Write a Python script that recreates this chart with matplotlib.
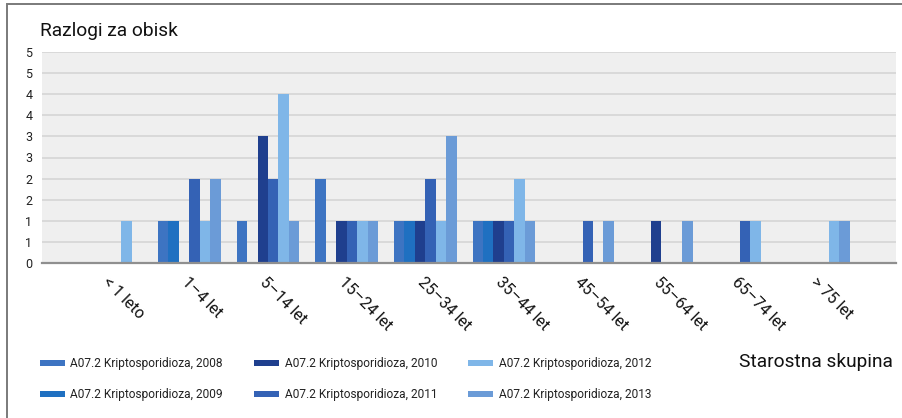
import matplotlib
matplotlib.use("Agg")
import matplotlib.pyplot as plt
import numpy as np
from matplotlib.patches import Rectangle

# ---------------- data ----------------
categories = ["< 1 leto", "1–4 let", "5–14 let", "15–24 let", "25–34 let",
              "35–44 let", "45–54 let", "55–64 let", "65–74 let", "> 75 let"]
series_labels = ["A07.2 Kriptosporidioza, 2008", "A07.2 Kriptosporidioza, 2009",
                 "A07.2 Kriptosporidioza, 2010", "A07.2 Kriptosporidioza, 2011",
                 "A07.2 Kriptosporidioza, 2012", "A07.2 Kriptosporidioza, 2013"]
v2008 = [0, 1, 1, 2, 1, 1, 0, 0, 0, 0]
v2009 = [0, 1, 0, 0, 1, 1, 0, 0, 0, 0]
v2010 = [0, 0, 3, 1, 1, 1, 0, 1, 0, 0]
v2011 = [0, 2, 2, 1, 2, 1, 1, 0, 1, 0]
v2012 = [1, 1, 4, 1, 1, 2, 0, 0, 1, 1]
v2013 = [0, 2, 1, 1, 3, 1, 1, 1, 0, 1]
ytick_values = [0, 0.5, 1, 1.5, 2, 2.5, 3, 3.5, 4, 4.5, 5]
ytick_labels = ["0", "1", "1", "2", "2", "3", "3", "4", "4", "5", "5"]
title_text = "Razlogi za obisk"
xlabel_text = "Starostna skupina"

series = [v2008, v2009, v2010, v2011, v2012, v2013]
colors = ["#3d74c2", "#1f70c1", "#1f3f8e", "#3462b5", "#7fb6e8", "#6b9bd7"]

FONT = ["Roboto", "DejaVu Sans"]
plt.rcParams["font.family"] = FONT

W, H = 903, 418
fig = plt.figure(figsize=(W / 100, H / 100), dpi=100)
fig.patch.set_facecolor("white")

# outer border (top and left visible)
fig.add_artist(Rectangle((7 / W, -0.05), 1.0, 1.05 - 4 / H, fill=False,
                         edgecolor="#7a7a7a", lw=1.4, transform=fig.transFigure))

ax_l, ax_r, ax_t, ax_b = 42, 896, 52, 263
ax = fig.add_axes([ax_l / W, (H - ax_b) / H, (ax_r - ax_l) / W, (ax_b - ax_t) / H])
ax.set_facecolor("#efefef")

x = np.arange(len(categories))
bw = 0.1329
handles = []
for i, (vals, c) in enumerate(zip(series, colors)):
    h = ax.bar(x + (i - 2.5) * bw, vals, width=bw, color=c, linewidth=0, zorder=3)
    handles.append(h)

ax.set_xlim(-0.873, 9.985)
ax.set_ylim(0, 5)
ax.set_yticks(ytick_values)
ax.set_yticklabels(ytick_labels, fontsize=9, color="#222222")
ax.set_axisbelow(True)
ax.yaxis.grid(True, color="#d7d7d7", lw=1.3)
for s in ["top", "right", "left"]:
    ax.spines[s].set_visible(False)
ax.spines["bottom"].set_color("#8f8f8f")
ax.spines["bottom"].set_linewidth(1.6)
ax.spines["bottom"].set_zorder(4)
ax.tick_params(axis="both", length=0)
ax.tick_params(axis="y", pad=7)
ax.tick_params(axis="x", pad=8)
ax.set_xticks(x)
ax.set_xticklabels(categories, rotation=-45, ha="left", va="top",
                   rotation_mode="anchor", fontsize=11.5, color="#111111")

fig.text(40 / W, 1 - 36 / H, title_text, fontsize=13.8, color="#111111",
         ha="left", va="baseline")
fig.text(893 / W, 1 - 367 / H, xlabel_text, fontsize=13.8, color="#111111",
         ha="right", va="baseline")

leg = fig.legend(handles, series_labels, ncol=3, loc="upper left",
                 bbox_to_anchor=(40 / W, 1 - 357.5 / H), frameon=False,
                 fontsize=8.6, borderpad=0, borderaxespad=0,
                 handlelength=2.1, handleheight=0.45, handletextpad=0.45,
                 columnspacing=2.6, labelspacing=1.5)
for t in leg.get_texts():
    t.set_color("#222222")

fig.savefig("out.png", dpi=100, facecolor="white")
